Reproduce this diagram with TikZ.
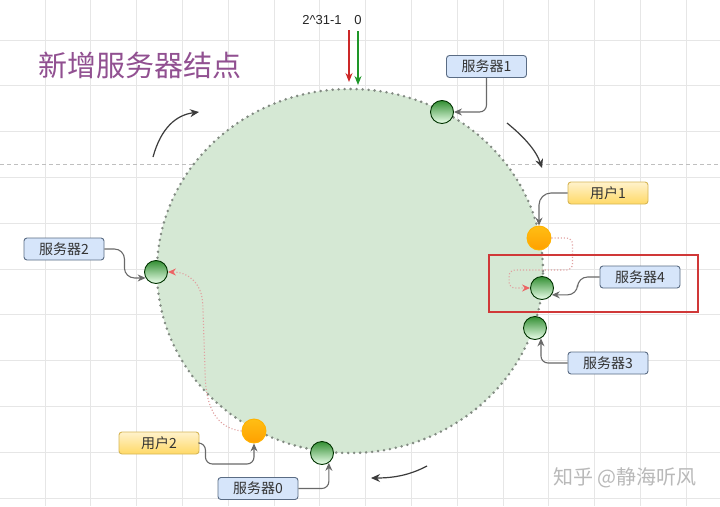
\documentclass[tikz,border=0pt]{standalone}
\usepackage{fontspec}
\setmainfont{Liberation Sans}
\newfontfamily\cjk{Noto Sans CJK SC}
\usetikzlibrary{arrows.meta,calc,shapes.geometric}

\definecolor{gridgray}{RGB}{230,230,230}
\definecolor{ringfill}{RGB}{213,232,212}
\definecolor{ringdot}{RGB}{130,138,130}
\definecolor{titlepurple}{RGB}{145,80,145}
\definecolor{boxblue}{RGB}{214,229,250}
\definecolor{boxblueline}{RGB}{90,108,132}
\definecolor{boxyellowtop}{RGB}{255,242,204}
\definecolor{boxyellowbot}{RGB}{255,217,102}
\definecolor{boxyellowline}{RGB}{214,182,86}
\definecolor{conngray}{RGB}{105,105,105}
\definecolor{routepink}{RGB}{225,160,160}
\definecolor{routered}{RGB}{236,100,100}
\definecolor{markred}{RGB}{204,40,40}
\definecolor{markgreen}{RGB}{30,150,40}
\definecolor{boxred}{RGB}{208,56,56}
\definecolor{spingray}{RGB}{60,60,60}
\definecolor{wmgray}{RGB}{185,185,185}
\definecolor{usertop}{RGB}{255,190,20}
\definecolor{userbot}{RGB}{255,160,0}

\begin{document}
\begin{tikzpicture}[x=1pt,y=-1pt,
  gridline/.style={draw=gridgray,line width=0.7pt},
  server/.style={circle,minimum size=23pt,inner sep=0pt,draw=black!80!green,
    line width=0.9pt,top color=green!45!black!80,bottom color=green!8!white},
  user/.style={circle,minimum size=24pt,inner sep=0pt,draw=orange!60!yellow,
    line width=0.9pt,top color=usertop,bottom color=userbot},
  srvlabel/.style={rectangle,rounded corners=3pt,minimum width=80pt,minimum height=22pt,
    inner sep=0pt,draw=boxblueline,line width=0.9pt,fill=boxblue,
    text=black!80,font=\cjk\fontsize{14}{14}\selectfont},
  usrlabel/.style={rectangle,rounded corners=3pt,minimum width=80pt,minimum height=22pt,
    inner sep=0pt,draw=boxyellowline,line width=0.9pt,top color=boxyellowtop,bottom color=boxyellowbot,
    text=black!80,font=\cjk\fontsize{14}{14}\selectfont},
  conn/.style={draw=conngray,line width=1.1pt,rounded corners=7pt,
    -{Stealth[length=8pt,width=7pt]}},
  route/.style={draw=routepink,line width=1.1pt,dotted,rounded corners=6pt,
    -{Stealth[length=8pt,width=7pt,color=routered]}},
  spin/.style={draw=spingray,line width=1.2pt,-{Stealth[length=9pt,width=8pt]}}]

\useasboundingbox (0,0) rectangle (720,506);
\fill[white] (0,0) rectangle (720,506);

% background grid
\foreach \i in {0,...,14} \draw[gridline] (45+45.8*\i,0) -- (45+45.8*\i,506);
\foreach \j in {0,...,10} \draw[gridline] (0,40+45.8*\j) -- (720,40+45.8*\j);
\draw[draw=black!25,line width=0.8pt,dash pattern=on 4pt off 3pt] (0,164) -- (720,164);

% hash ring
\node[ellipse,minimum width=386pt,minimum height=364pt,inner sep=0pt,fill=ringfill,
  draw=ringdot,line width=2.8pt,line cap=round,dash pattern=on 0pt off 6pt] (ring) at (350,271) {};

% title
\node[text=titlepurple,font=\cjk\fontsize{29}{29}\selectfont,anchor=west] (title) at (35,65) {新增服务器结点};

% ring origin markers
\node[font=\fontsize{13}{14}\selectfont,text=black!85] (maxval) at (322,20) {2\textasciicircum{}31-1};
\node[font=\fontsize{13}{14}\selectfont,text=black!85] (zeroval) at (358,20) {0};
\coordinate (redtop) at (349,30);
\coordinate (redend) at (349,82);
\coordinate (greentop) at (358,31);
\coordinate (greenend) at (358,85);
\draw[draw=markred,line width=1.2pt,-{Stealth[length=9pt,width=7pt]}] (redtop) -- (redend);
\draw[draw=markgreen,line width=1.2pt,-{Stealth[length=9pt,width=7pt]}] (greentop) -- (greenend);

% clockwise direction arrows
\coordinate (sp1a) at (153,157); \coordinate (sp1b) at (199,112);
\coordinate (sp2a) at (507,123); \coordinate (sp2b) at (542,168);
\coordinate (sp3a) at (427,466); \coordinate (sp3b) at (371,478);
\draw[spin] (sp1a) .. controls (161,128) and (176,115) .. (sp1b);
\draw[spin] (sp2a) .. controls (523,136) and (536,150) .. (sp2b);
\draw[spin] (sp3a) .. controls (410,475) and (394,478) .. (sp3b);

% servers and users on the ring
\node[server] (s1) at (442,112) {};
\node[server] (s2) at (156,272) {};
\node[server] (s4) at (542,288) {};
\node[server] (s3) at (535,328) {};
\node[server] (s0) at (322,453) {};
\node[user] (u1) at (539,238) {};
\node[user] (u2) at (254,431) {};

% labels
\node[srvlabel] (ls1) at (486.5,66.5) {服务器1};
\node[srvlabel] (ls2) at (64,249) {服务器2};
\node[srvlabel] (ls4) at (640,277) {服务器4};
\node[srvlabel] (ls3) at (608,363) {服务器3};
\node[srvlabel] (ls0) at (258,488.5) {服务器0};
\node[usrlabel] (lu1) at (608,193) {用户1};
\node[usrlabel] (lu2) at (159,443) {用户2};

% label connectors
\draw[conn] (ls1.south) |- (s1.east);
\draw[conn,rounded corners=10pt] (ls2.east) -- ++(20,0) |- (s2.210);
\draw[conn,rounded corners=10pt] (ls4.west) -- ++(-22,0) |- (s4.-35);
\draw[conn] (ls3.west) -| (s3.-60);
\draw[conn] (ls0.east) -| (s0.-55);
\draw[conn,rounded corners=12pt] (lu1.west) -| (u1.north);
\draw[conn] (lu2.east) -- ++(6,0) -- ++(0,21) -| (u2.south);

% request routing
\draw[route] (u1.east) -- ++(21,0) -- ++(0,32) -| ($(s4.west)+(-21,0)$) -- (s4.west);
\draw[route] (u2.west) .. controls (215,428) and (206,405) .. (205,370)
  -- (203,310) .. controls (202,285) and (190,272) .. (s2.east);

% highlight of the new server
\node[rectangle,draw=boxred,line width=1.5pt,minimum width=209pt,minimum height=57pt,inner sep=0pt] (newbox) at (593.5,283.5) {};

% watermark
\node[text=wmgray,font=\cjk\fontsize{20}{20}\selectfont] (wm) at (625,478) {知乎 @静海听风};
\end{tikzpicture}
\end{document}
